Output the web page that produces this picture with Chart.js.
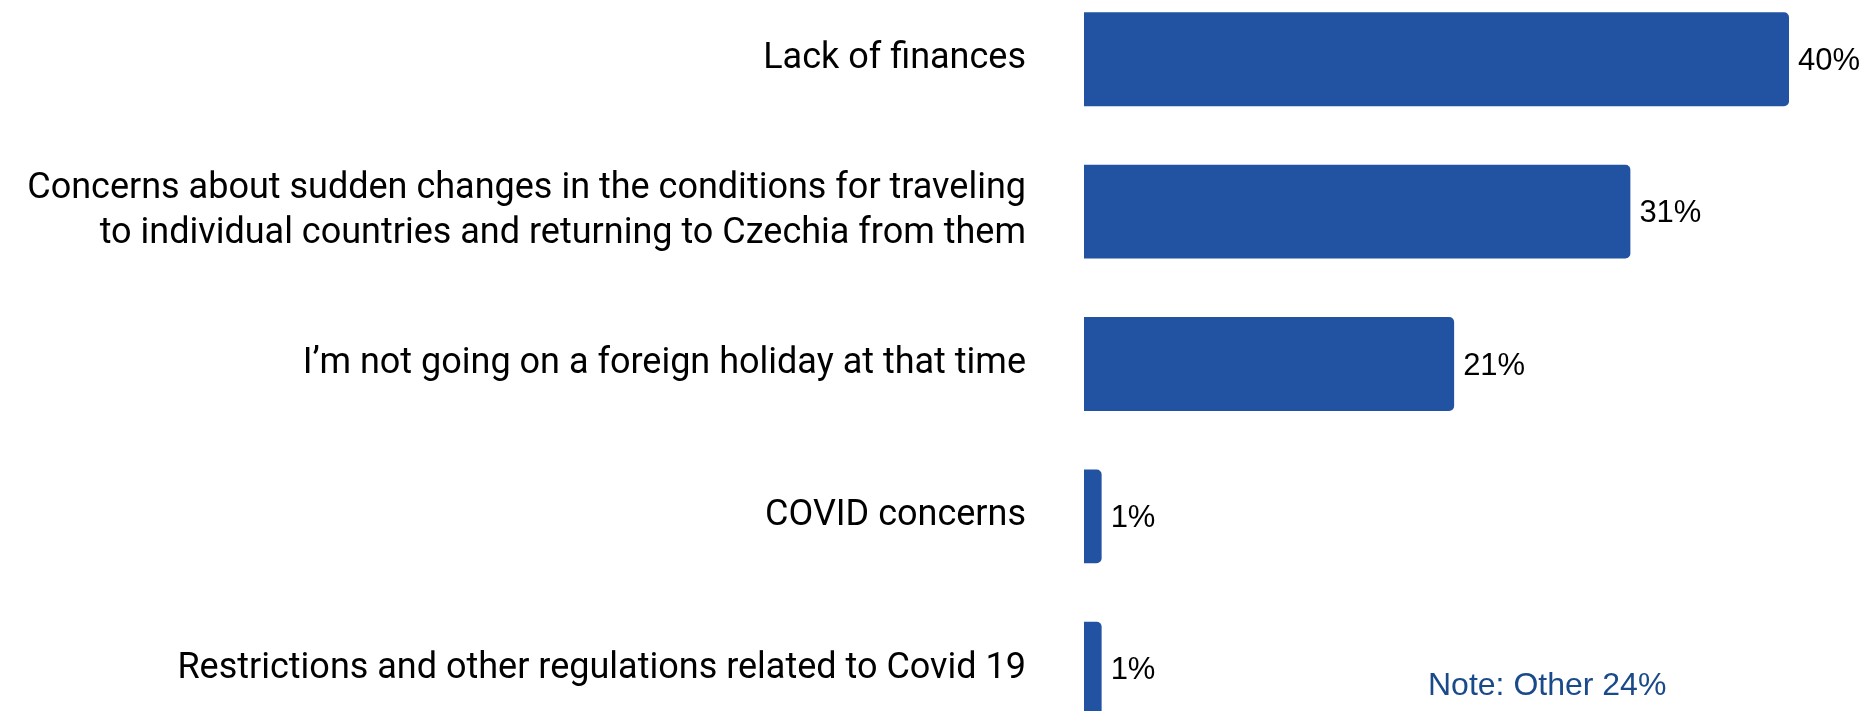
<!DOCTYPE html>
<html>
<head>
<meta charset="utf-8">
<script src="https://cdn.jsdelivr.net/npm/chart.js@4"></script>
<style>
  html, body { margin: 0; padding: 0; background: #fff; overflow: hidden; }
  body { width: 1870px; height: 711px; position: relative; }
  #wrap { position: absolute; left: 0; top: -17px; width: 1870px; height: 762px; }
  #note {
    position: absolute; left: 1428px; top: 666px;
    font: 32px "Liberation Sans", Arial, sans-serif; color: #1a4a8a;
  }
</style>
</head>
<body>
<div id="wrap"><canvas id="chart"></canvas></div>
<div id="note">Note: Other 24%</div>
<script>
// ── Adatok ──
const categories = [
  'Lack of finances',
  ['Concerns about sudden changes in the conditions for traveling', 'to individual countries and returning to Czechia from them'],
  'I\u2019m not going on a foreign holiday at that time',
  'COVID concerns',
  'Restrictions and other regulations related to Covid 19'
];
const shares = [40, 31, 21, 1, 1];

const BAR_COLOR = '#2253a2';

// Értékcímkék a sávok végén
const valueLabels = {
  id: 'valueLabels',
  afterDatasetsDraw(chart) {
    const ctx = chart.ctx;
    const meta = chart.getDatasetMeta(0);
    ctx.save();
    ctx.font = '31px "Liberation Sans", Arial, sans-serif';
    ctx.fillStyle = '#000';
    ctx.textAlign = 'left';
    ctx.textBaseline = 'middle';
    meta.data.forEach((bar, i) => {
      ctx.fillText(shares[i] + '%', bar.x + 9, bar.y + 2);
    });
    ctx.restore();
  }
};

new Chart(document.getElementById('chart'), {
  type: 'bar',
  data: {
    labels: categories,
    datasets: [{
      data: shares,
      backgroundColor: BAR_COLOR,
      borderSkipped: 'start',
      borderRadius: 5,
      barPercentage: 0.616,
      categoryPercentage: 1
    }]
  },
  options: {
    indexAxis: 'y',
    responsive: true,
    maintainAspectRatio: false,
    animation: false,
    layout: { padding: { left: 0, right: 10.5, top: 0, bottom: 0 } },
    plugins: {
      legend: { display: false },
      tooltip: { enabled: false }
    },
    scales: {
      x: {
        display: false,
        min: 0,
        max: 44
      },
      y: {
        grid: { display: false, drawTicks: false },
        border: { display: false },
        ticks: {
          color: '#000',
          padding: 58,
          autoSkip: false,
          font: { family: 'Roboto, "Liberation Sans", sans-serif', size: 36, lineHeight: 1.24 }
        },
        afterFit: scale => {
          scale.width = 1084;
          scale.paddingTop = 0;
          scale.paddingBottom = 0;
        }
      }
    }
  },
  plugins: [valueLabels]
});
</script>
</body>
</html>
